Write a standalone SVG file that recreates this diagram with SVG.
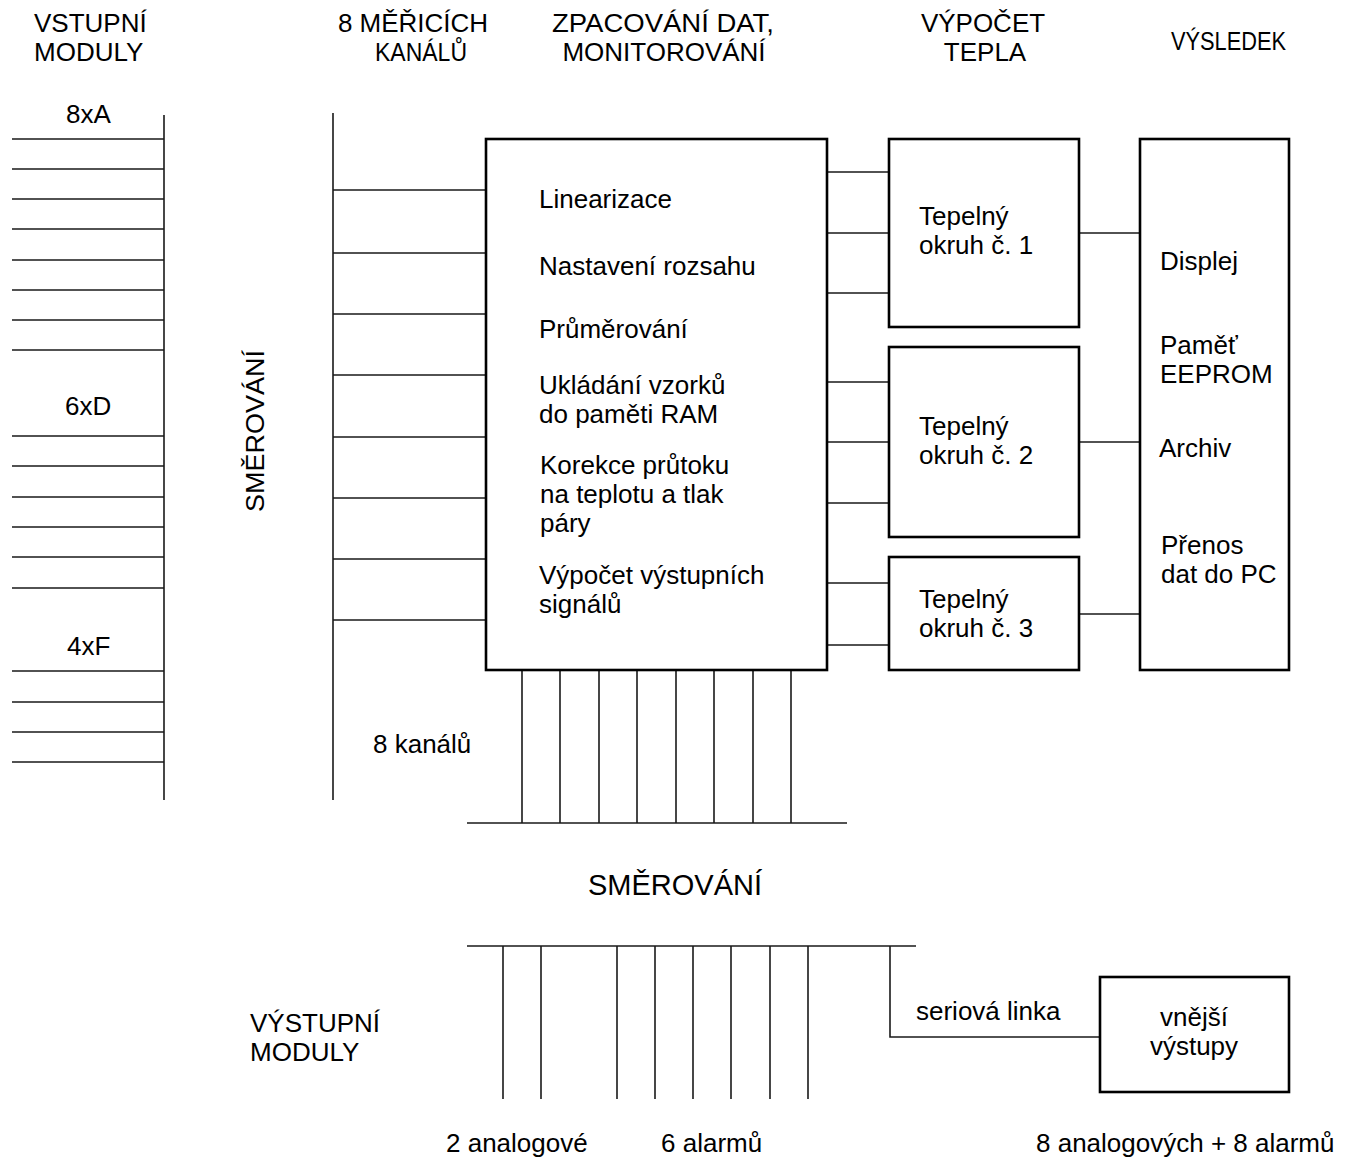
<svg xmlns="http://www.w3.org/2000/svg" width="1346" height="1160" viewBox="0 0 1346 1160">
<style>
text{font-family:"Liberation Sans",Arial,sans-serif;font-size:26px;fill:#000}
.c{text-anchor:middle}
.ln{stroke:#1a1a1a;stroke-width:1.6;fill:none}
.box{fill:#fff;stroke:#000;stroke-width:2.6}
</style>
<rect width="1346" height="1160" fill="#fff"/>
<g id="headers">
<text x="34" y="32">VSTUPNÍ</text>
<text x="34" y="61">MODULY</text>
<text class="c" x="413" y="32">8 MĚŘICÍCH</text>
<text class="c" x="421" y="61" textLength="92" lengthAdjust="spacingAndGlyphs">KANÁLŮ</text>
<text class="c" x="663" y="32" textLength="222" lengthAdjust="spacingAndGlyphs">ZPACOVÁNÍ DAT,</text>
<text class="c" x="664" y="61">MONITOROVÁNÍ</text>
<text class="c" x="983" y="32">VÝPOČET</text>
<text class="c" x="985" y="61">TEPLA</text>
<text x="1171" y="50" textLength="115" lengthAdjust="spacingAndGlyphs">VÝSLEDEK</text>
</g>
<g id="connectors">
<path class="ln" d="M164,115V800 M12,139H164 M12,169H164 M12,199H164 M12,229H164 M12,260H164 M12,290H164 M12,320H164 M12,350H164 M12,436H164 M12,466H164 M12,497H164 M12,527H164 M12,557H164 M12,588H164 M12,671H164 M12,702H164 M12,732H164 M12,762H164"/>
<path class="ln" d="M333,113V800 M333,190H486 M333,253H486 M333,314H486 M333,375H486 M333,437H486 M333,498H486 M333,559H486 M333,620H486"/>
<path class="ln" d="M827,172H889 M827,233H889 M827,293H889 M827,382H889 M827,442H889 M827,503H889 M827,583H889 M827,645H889"/>
<path class="ln" d="M1079,233H1140 M1079,442H1140 M1079,614H1140"/>
<path class="ln" d="M522,670V823 M560,670V823 M599,670V823 M637,670V823 M676,670V823 M714,670V823 M753,670V823 M791,670V823 M467,823H847"/>
<path class="ln" d="M467,946H916 M503,946V1099 M541,946V1099 M617,946V1099 M655,946V1099 M693,946V1099 M731,946V1099 M770,946V1099 M808,946V1099 M890,946V1037H1100"/>
</g>
<g id="input-labels">
<text x="66" y="123">8xA</text>
<text x="65" y="415">6xD</text>
<text x="67" y="655">4xF</text>
<text class="c" transform="translate(264,431) rotate(-90)" textLength="162" lengthAdjust="spacingAndGlyphs">SMĚROVÁNÍ</text>
<text x="373" y="753">8 kanálů</text>
</g>
<g id="processing">
<rect class="box" x="486" y="139" width="341" height="531"/>
<text x="539" y="208">Linearizace</text>
<text x="539" y="275">Nastavení rozsahu</text>
<text x="539" y="338">Průměrování</text>
<text x="539" y="394">Ukládání vzorků</text>
<text x="539" y="423">do paměti RAM</text>
<text x="540" y="474">Korekce průtoku</text>
<text x="540" y="503">na teplotu a tlak</text>
<text x="540" y="532">páry</text>
<text x="539" y="584">Výpočet výstupních</text>
<text x="539" y="613">signálů</text>
</g>
<g id="heat1">
<rect class="box" x="889" y="139" width="190" height="188"/>
<text x="919" y="225">Tepelný</text>
<text x="919" y="254">okruh č. 1</text>
</g>
<g id="heat2">
<rect class="box" x="889" y="347" width="190" height="190"/>
<text x="919" y="435">Tepelný</text>
<text x="919" y="464">okruh č. 2</text>
</g>
<g id="heat3">
<rect class="box" x="889" y="557" width="190" height="113"/>
<text x="919" y="608">Tepelný</text>
<text x="919" y="637">okruh č. 3</text>
</g>
<g id="result">
<rect class="box" x="1140" y="139" width="149" height="531"/>
<text x="1160" y="270">Displej</text>
<text x="1160" y="354">Paměť</text>
<text x="1160" y="383">EEPROM</text>
<text x="1159" y="457">Archiv</text>
<text x="1161" y="554">Přenos</text>
<text x="1161" y="583">dat do PC</text>
</g>
<g id="routing2">
<text class="c" x="675" y="895" style="font-size:29px">SMĚROVÁNÍ</text>
</g>
<g id="outputs">
<text x="250" y="1032">VÝSTUPNÍ</text>
<text x="250" y="1061">MODULY</text>
<text x="916" y="1020">seriová linka</text>
<text x="446" y="1152">2 analogové</text>
<text x="661" y="1152">6 alarmů</text>
<text x="1036" y="1152">8 analogových + 8 alarmů</text>
</g>
<g id="external">
<rect class="box" x="1100" y="977" width="189" height="115" stroke-width="2.2"/>
<text class="c" x="1194" y="1026">vnější</text>
<text class="c" x="1194" y="1055">výstupy</text>
</g>
</svg>
